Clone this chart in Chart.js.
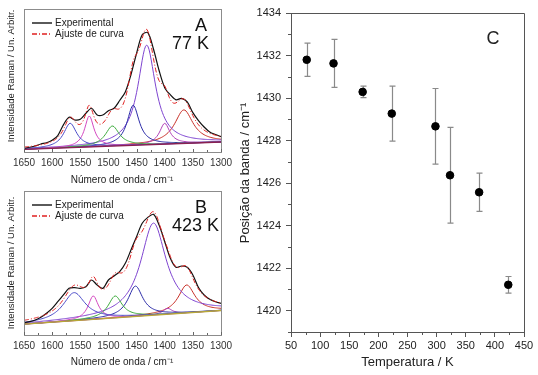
<!DOCTYPE html>
<html>
<head>
<meta charset="utf-8">
<script src="https://cdn.jsdelivr.net/npm/chart.js@4.4.0/dist/chart.umd.min.js"></script>
<style>
body { margin: 0; background: #fff; width: 538px; height: 375px; position: relative; overflow: hidden; }
canvas { position: absolute; }
</style>
</head>
<body>
<canvas id="chartA" width="245" height="190" style="left:0px;top:0px"></canvas>
<canvas id="chartB" width="245" height="195" style="left:0px;top:180px"></canvas>
<canvas id="chartC" width="313" height="375" style="left:225px;top:0px"></canvas>
<script>
// spectra (A = 77 K, B = 423 K), arbitrary units 0-100
var waveNumbers = [1650, 1640, 1630, 1620, 1610, 1600, 1590, 1580, 1570, 1560, 1550, 1540,
    1530, 1520, 1510, 1500, 1490, 1480, 1470, 1460, 1450, 1440, 1430, 1420,
    1410, 1400, 1390, 1380, 1370, 1360, 1350, 1340, 1330, 1320, 1310, 1300];
var expA = [2.6, 3.3, 4.2, 5.6, 6.5, 8.2, 11.5, 19, 24.3, 22.4, 22.9, 27.1,
    30.6, 25.9, 25.9, 28.9, 30.6, 36, 42, 54, 69, 82, 83.5, 72,
    57, 45, 40, 36.5, 37.5, 35, 27.5, 22, 17.5, 14, 12.2, 10.7];
var expB = [8.5, 9.3, 10.4, 12.3, 15.1, 18.5, 23.1, 27.8, 32.4, 32.9, 32.4, 33.5,
    38.2, 34.7, 32.4, 38.2, 41, 44, 49.8, 59, 68.3, 77.6, 81.7, 83.8,
    76.4, 64.8, 53.3, 47, 47.9, 47, 41.7, 33, 27.8, 24.8, 23.1, 22];

// fitted bands: centre (cm-1), height above baseline, FWHM
var centersA = [1568, 1534, 1493, 1456, 1432, 1400, 1366];
var heightsA = [17, 21.6, 14, 28, 69.7, 14.5, 23.4];
var widthsA = [28, 20, 30, 26, 38, 22, 40];
var baselineA = [1.9, 7.0];   // at 1650 and 1300

var centersB = [1561, 1527, 1488, 1452, 1420, 1395, 1361];
var heightsB = [19.5, 16.3, 15.2, 21.1, 64, 4.1, 19.4];
var widthsB = [48, 22, 30, 32, 55, 20, 36];
var baselineB = [7.5, 17.0];

var bandColors = ['#4a4ac8', '#d448c0', '#3caa3c', '#2c2ca8', '#7e44d0', '#b040b8', '#c83028'];
var spectrumTicks = [1650, 1600, 1550, 1500, 1450, 1400, 1350, 1300];

// panel C
var temperatures = [77, 123, 173, 223, 298, 323, 373, 423];
var bandPosition = [1431.8, 1431.63, 1430.29, 1429.27, 1428.67, 1426.37, 1425.57, 1421.22];
var bandError = [0.78, 1.13, 0.27, 1.29, 1.78, 2.25, 0.9, 0.39];
var tempTicks = [50, 100, 150, 200, 250, 300, 350, 400, 450];
var posTicks = [1420, 1422, 1424, 1426, 1428, 1430, 1432, 1434];

var FONT = 'Liberation Sans, Arial, sans-serif';
Chart.defaults.font.family = FONT;

function baseAt(w, base) {
    return base[0] + (1650 - w) * (base[1] - base[0]) / 350;
}
function band(w, c, h, fw) {
    var d = (w - c) / (fw / 2);
    return h / (1 + d * d);
}
function plainLabel(v) { return String(v); }

var spectrumPlugin = {
    id: 'spectrumText',
    afterDraw: function(chart, args, o) {
        var ctx = chart.ctx, a = chart.chartArea, xs = chart.scales.x;
        ctx.save();
        ctx.strokeStyle = '#8c8c8c';
        ctx.lineWidth = 1;
        ctx.strokeRect(a.left + 0.5, a.top + 0.5, a.right - a.left, a.bottom - a.top);

        // inward ticks on the bottom axis
        ctx.strokeStyle = '#666';
        ctx.beginPath();
        for (var w = 1650; w >= 1300; w -= 25) {
            var px = Math.round(xs.getPixelForValue(w)) + 0.5;
            var len = (w % 50 === 0) ? 3 : 2;
            ctx.moveTo(px, a.bottom); ctx.lineTo(px, a.bottom - len);
        }
        ctx.stroke();

        // legend
        ctx.lineWidth = 1.3;
        ctx.strokeStyle = '#000';
        ctx.beginPath();
        ctx.moveTo(a.left + 8, a.top + 14); ctx.lineTo(a.left + 28, a.top + 14);
        ctx.stroke();
        ctx.strokeStyle = '#e02020';
        ctx.setLineDash([5, 2, 1, 2]);
        ctx.beginPath();
        ctx.moveTo(a.left + 8, a.top + 25); ctx.lineTo(a.left + 28, a.top + 25);
        ctx.stroke();
        ctx.setLineDash([]);
        ctx.fillStyle = '#222';
        ctx.font = '10px ' + FONT;
        ctx.textAlign = 'left';
        ctx.textBaseline = 'middle';
        ctx.fillText('Experimental', a.left + 31, a.top + 14);
        ctx.fillText('Ajuste de curva', a.left + 31, a.top + 25);

        ctx.fillStyle = '#111';
        ctx.font = '18px ' + FONT;
        ctx.fillText(o.letter, a.left + 171, a.top + 17);
        ctx.fillText(o.temp, a.left + 148, a.top + 35);

        ctx.fillStyle = '#222';
        ctx.font = '10px ' + FONT;
        ctx.textAlign = 'center';
        ctx.fillText('Número de onda / cm⁻¹', 122, o.xTitleY);
        ctx.translate(11, o.yTitleY);
        ctx.rotate(-Math.PI / 2);
        ctx.font = '9.5px ' + FONT;
        ctx.fillText('Intensidade Raman / Un. Arbitr.', 0, 0);
        ctx.restore();
    }
};

function makeSpectrum(id, exp, centers, heights, widths, base, baseColor, opts) {
    var grid = [];
    for (var w = 1650; w >= 1300; w -= 2) grid.push(w);

    var datasets = [];
    // components
    for (var i = 0; i < centers.length; i++) {
        datasets.push({
            data: grid.map(function(w) { return { x: w, y: baseAt(w, base) + band(w, centers[i], heights[i], widths[i]) }; }),
            borderColor: bandColors[i], borderWidth: 1, pointRadius: 0, order: 5
        });
    }
    datasets.push({
        data: [{ x: 1650, y: base[0] }, { x: 1300, y: base[1] }],
        borderColor: baseColor, borderWidth: 1.3, pointRadius: 0, order: 4
    });
    // experimental
    datasets.push({
        data: waveNumbers.map(function(w, k) { return { x: w, y: exp[k] }; }),
        borderColor: '#111', borderWidth: 1.2, pointRadius: 0, tension: 0.3, order: 2
    });
    // fit = sum of bands + baseline
    datasets.push({
        data: grid.map(function(w) {
            var s = baseAt(w, base);
            for (var k = 0; k < centers.length; k++) s += band(w, centers[k], heights[k], widths[k]);
            return { x: w, y: s };
        }),
        borderColor: '#e02020', borderWidth: 1, borderDash: [5, 2, 1, 2], pointRadius: 0, order: 1
    });

    return new Chart(document.getElementById(id).getContext('2d'), {
        type: 'line',
        data: { datasets: datasets },
        options: {
            responsive: false,
            animation: false,
            layout: { padding: { left: 24, right: 24, top: opts.top, bottom: 0 } },
            plugins: { legend: { display: false }, tooltip: { enabled: false }, spectrumText: opts },
            scales: {
                x: {
                    type: 'linear', reverse: true, min: 1300, max: 1650,
                    afterBuildTicks: function(s) { s.ticks = spectrumTicks.map(function(v) { return { value: v }; }); },
                    afterFit: function(s) { s.height = opts.xHeight; },
                    ticks: { color: '#333', font: { size: 10 }, padding: 5, maxRotation: 0, callback: plainLabel },
                    grid: { drawOnChartArea: false, drawTicks: false, color: '#8c8c8c' },
                    border: { color: '#8c8c8c' }
                },
                y: { display: false, min: 0, max: 100 }
            }
        },
        plugins: [spectrumPlugin]
    });
}

makeSpectrum('chartA', expA, centersA, heightsA, widthsA, baselineA, '#8a2050',
    { letter: 'A', temp: '77 K', top: 9, xHeight: 38, xTitleY: 180, yTitleY: 76 });
makeSpectrum('chartB', expB, centersB, heightsB, widthsB, baselineB, '#b8a838',
    { letter: 'B', temp: '423 K', top: 11, xHeight: 40, xTitleY: 182, yTitleY: 83 });

// panel C: error bars, minor ticks, frame and labels
var panelCPlugin = {
    id: 'panelC',
    beforeDatasetsDraw: function(chart) {
        var ctx = chart.ctx, xs = chart.scales.x, ys = chart.scales.y;
        ctx.save();
        ctx.strokeStyle = '#8a8a8a';
        ctx.lineWidth = 1.2;
        temperatures.forEach(function(t, i) {
            var px = Math.round(xs.getPixelForValue(t)) + 0.5;
            var top = ys.getPixelForValue(bandPosition[i] + bandError[i]);
            var bot = ys.getPixelForValue(bandPosition[i] - bandError[i]);
            ctx.beginPath();
            ctx.moveTo(px, top); ctx.lineTo(px, bot);
            ctx.moveTo(px - 3, top); ctx.lineTo(px + 3, top);
            ctx.moveTo(px - 3, bot); ctx.lineTo(px + 3, bot);
            ctx.stroke();
        });
        ctx.restore();
    },
    afterDraw: function(chart) {
        var ctx = chart.ctx, a = chart.chartArea, xs = chart.scales.x, ys = chart.scales.y;
        ctx.save();
        ctx.strokeStyle = '#555';
        ctx.lineWidth = 1;
        ctx.beginPath();
        ctx.moveTo(a.left, a.top + 0.5); ctx.lineTo(a.right + 0.5, a.top + 0.5); ctx.lineTo(a.right + 0.5, a.bottom);
        // minor ticks
        for (var t = 75; t < 450; t += 50) {
            var px = Math.round(xs.getPixelForValue(t)) + 0.5;
            ctx.moveTo(px, a.bottom); ctx.lineTo(px, a.bottom + 3);
        }
        for (var v = 1419; v < 1434; v += 2) {
            var py = Math.round(ys.getPixelForValue(v)) + 0.5;
            ctx.moveTo(a.left, py); ctx.lineTo(a.left - 3, py);
        }
        ctx.stroke();

        ctx.fillStyle = '#222';
        ctx.textAlign = 'center';
        ctx.textBaseline = 'middle';
        ctx.font = '13px ' + FONT;
        ctx.fillText('Temperatura / K', (a.left + a.right) / 2, 362);
        ctx.font = '18px ' + FONT;
        ctx.fillText('C', 268, 39);
        ctx.translate(20, 173);
        ctx.rotate(-Math.PI / 2);
        ctx.font = '13px ' + FONT;
        ctx.fillText('Posição da banda / cm⁻¹', 0, 0);
        ctx.restore();
    }
};

new Chart(document.getElementById('chartC').getContext('2d'), {
    type: 'scatter',
    data: {
        datasets: [{
            data: temperatures.map(function(t, i) { return { x: t, y: bandPosition[i] }; }),
            backgroundColor: '#000', borderColor: '#000', pointRadius: 3.8
        }]
    },
    options: {
        responsive: false,
        animation: false,
        layout: { padding: { left: 0, right: 14, top: 13, bottom: 0 } },
        plugins: { legend: { display: false }, tooltip: { enabled: false } },
        scales: {
            x: {
                type: 'linear', min: 50, max: 450,
                afterBuildTicks: function(s) { s.ticks = tempTicks.map(function(v) { return { value: v }; }); },
                afterFit: function(s) { s.height = 43; },
                ticks: { color: '#222', font: { size: 11 }, padding: 2, maxRotation: 0, callback: plainLabel },
                grid: { drawOnChartArea: false, tickLength: 5, color: '#555' },
                border: { color: '#555' }
            },
            y: {
                type: 'linear', min: 1419, max: 1434,
                afterBuildTicks: function(s) { s.ticks = posTicks.map(function(v) { return { value: v }; }); },
                afterFit: function(s) { s.width = 66; },
                ticks: { color: '#222', font: { size: 11 }, padding: 5, callback: plainLabel },
                grid: { drawOnChartArea: false, tickLength: 5, color: '#555' },
                border: { color: '#555' }
            }
        }
    },
    plugins: [panelCPlugin]
});
</script>
</body>
</html>
